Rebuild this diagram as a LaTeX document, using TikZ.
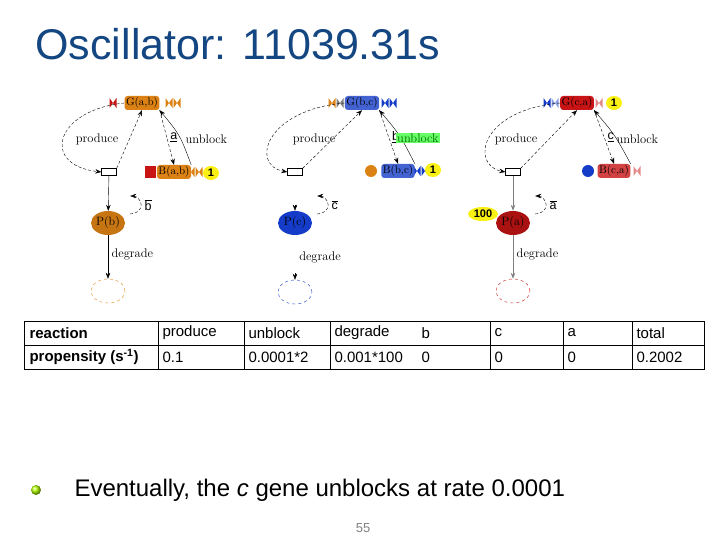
\documentclass[tikz,border=0pt]{standalone}
\usepackage{fontspec}
\setmainfont{Liberation Sans}
\newfontfamily\lm{Latin Modern Roman}
\usetikzlibrary{arrows.meta,shapes.geometric}
\definecolor{titleblue}{RGB}{20,70,130}
\definecolor{gorange}{RGB}{220,130,20}
\definecolor{gblue}{RGB}{20,60,200}
\definecolor{gred}{RGB}{200,20,20}
\definecolor{badge}{RGB}{250,240,20}
\tikzset{
 lab/.style={font=\lm\fontsize{12.5}{14}\selectfont},
 gene/.style={rounded corners=3pt,inner sep=1.5pt,font=\lm\fontsize{11}{12}\selectfont,minimum height=11pt},
 badgenode/.style={ellipse,fill=badge,inner sep=1pt,minimum width=16pt,minimum height=14pt,font=\bfseries\fontsize{11}{12}\selectfont},
 tbox/.style={draw,fill=white,minimum width=15pt,minimum height=7pt,inner sep=0pt},
 prot/.style={ellipse,minimum width=34pt,minimum height=24pt,inner sep=0pt,font=\lm\fontsize{12}{13}\selectfont},
 sink/.style={ellipse,dashed,minimum width=34pt,minimum height=24pt},
 arr/.style={-{Stealth[length=6pt]},thin},
 darr/.style={arr,densely dashed},
 cell/.style={anchor=west,font=\fontsize{15}{17}\selectfont},
 hcell/.style={cell,font=\bfseries\fontsize{15}{17}\selectfont},
}
\newcommand{\btie}[3]{\fill[#3] (#1-3.5,#2-5)--(#1+3.5,#2+5)--(#1+3.5,#2-5)--(#1-3.5,#2+5)--cycle;}
\begin{document}
\begin{tikzpicture}[x=1pt,y=-1pt]
\useasboundingbox (0,0) rectangle (720,540);
\node[anchor=west,text=titleblue,font=\fontsize{43}{48}\selectfont] (title) at (32,44) {Oscillator: 11039.31s};

% ---------- module 1
\btie{113}{103}{gred}\btie{169}{103}{gorange}\btie{177}{103}{gorange}
\node[gene,fill=gorange] (g1) at (142,103) {G(a,b)};
\fill[gred] (145,166) rectangle (156,178);
\btie{191}{172}{gorange}\btie{199}{172}{gorange}
\node[gene,fill=gorange] (b1) at (174,172) {B(a,b)};
\node[badgenode] (k1) at (211,173) {1};
\node[tbox] (t1) at (109,172) {};
\node[prot,fill=gorange!90!black] (p1) at (108,223) {P(b)};
\node[sink,draw=gorange] (s1) at (108,291) {};
\draw[darr] (g1.west) .. controls (55,110) and (40,165) .. (t1.west);
\node[lab] (pr1) at (97,139) {produce};
\draw[darr] (t1.north east) -- (g1.south);
\draw[darr] (g1.south east) -- node[lab,right,pos=0.5]{$\underline{\mathrm{a}}$} (b1.north);
\draw[arr] (b1.north east) .. controls (180,135) .. (g1.south east);
\node[lab,anchor=west] (u1) at (182,139) {unblock};
\draw[arr] (t1) -- (p1);
\draw[darr] (p1.east) ++(5,-9) arc (90:-90:11 and 9) node[lab,right,pos=0.5]{$\overline{\mathrm{b}}$};
\draw[arr] (p1) -- node[lab,anchor=west,pos=0.45]{degrade} (s1);

% ---------- module 2
\btie{332}{103}{gorange}\btie{340}{103}{gray}\btie{385}{103}{gblue}\btie{393}{103}{gblue}
\node[gene,fill=gblue!80] (g2) at (362,103) {G(b,c)};
\fill[gorange] (371,171) circle (6);
\btie{417}{171}{gblue}\btie{425}{171}{gblue}
\node[gene,fill=gblue!80] (b2) at (398,171) {B(b,c)};
\node[badgenode] (k2) at (433,170) {1};
\node[tbox] (t2) at (295,172) {};
\node[prot,fill=gblue] (p2) at (295,223) {P(c)};
\node[sink,draw=gblue] (s2) at (295,292) {};
\coordinate (t2a) at (295,205);\coordinate (s2a) at (295,273);
\draw[darr] (g2.west) .. controls (265,110) and (250,165) .. (t2.west);
\node[lab] (pr2) at (314,139) {produce};
\draw[darr] (t2.north east) -- (g2.south);
\draw[darr] (g2.south east) -- node[lab,right,pos=0.5]{$\underline{\mathrm{b}}$} (b2.north);
\draw[arr] (b2.north east) .. controls (400,135) .. (g2.south east);
\node[lab,anchor=west,fill=green!60,text=green!40!black,inner sep=1pt] (u2) at (396,138) {unblock};
\draw[arr] (t2a) -- (p2.north);
\draw[darr] (p2.east) ++(5,-9) arc (90:-90:11 and 9) node[lab,right,pos=0.5]{$\overline{\mathrm{c}}$};
\draw[arr] (s2a) -- (s2.north);
\node[lab] (d2) at (320,257) {degrade};

% ---------- module 3
\btie{547}{103}{gblue}\btie{555}{103}{gblue!50}\btie{599}{103}{gred!50}
\node[gene,fill=gred] (g3) at (577,103) {G(c,a)};
\node[badgenode] (k3) at (614,103) {1};
\fill[gblue] (588,171) circle (6);
\btie{637}{171}{gred!50}
\node[gene,fill=gred!80] (b3) at (614,171) {B(c,a)};
\node[tbox] (t3) at (513,172) {};
\node[prot,fill=gred!85!black] (p3) at (513,223) {P(a)};
\node[badgenode,minimum width=30pt] (k4) at (483,214) {100};
\node[sink,draw=gred] (s3) at (513,291) {};
\draw[darr] (g3.west) .. controls (480,110) and (470,165) .. (t3.west);
\node[lab] (pr3) at (516,139) {produce};
\draw[darr] (t3.north east) -- (g3.south);
\draw[darr] (g3.south east) -- node[lab,right,pos=0.5]{$\underline{\mathrm{c}}$} (b3.north);
\draw[arr] (b3.north east) .. controls (615,135) .. (g3.south east);
\node[lab,anchor=west] (u3) at (613,139) {unblock};
\draw[arr,gray,thick] (t3) -- (p3);
\draw[darr] (p3.east) ++(5,-9) arc (90:-90:11 and 9) node[lab,right,pos=0.5]{$\overline{\mathrm{a}}$};
\draw[arr,gray,thick] (p3) -- node[lab,anchor=west,text=black,pos=0.45]{degrade} (s3);

% ---------- table
\draw[thick] (24,321) rectangle (704,369);
\foreach \x in {158,244,330,490,563,632} \draw (\x,321) -- (\x,369);
\draw (24,345) -- (704,345);
\node[hcell] (r1) at (26,333) {reaction};
\node[hcell] (r2) at (26,357) {propensity (s\textsuperscript{-1})};
\node[cell] (c1) at (159,333) {produce};\node[cell] (c1b) at (159,357) {0.1};
\node[cell] (c2) at (245,333) {unblock};\node[cell] (c2b) at (245,357) {0.0001*2};
\node[cell] (c3) at (331,333) {degrade};\node[cell] (c3b) at (331,357) {0.001*100};
\node[cell] (c4) at (418,333) {b};\node[cell] (c4b) at (418,357) {0};
\node[cell] (c5) at (491,333) {c};\node[cell] (c5b) at (491,357) {0};
\node[cell] (c6) at (564,333) {a};\node[cell] (c6b) at (564,357) {0};
\node[cell] (c7) at (633,333) {total};\node[cell] (c7b) at (633,357) {0.2002};

% ---------- bottom
\shade[ball color=yellow!70!green] (36,490) circle (5);
\node[anchor=west,font=\fontsize{24}{27}\selectfont] (bt) at (71,490) {Eventually, the \textit{c} gene unblocks at rate 0.0001};
\node[text=gray,font=\fontsize{13}{15}\selectfont] (pg) at (363,528) {55};
\end{tikzpicture}
\end{document}
